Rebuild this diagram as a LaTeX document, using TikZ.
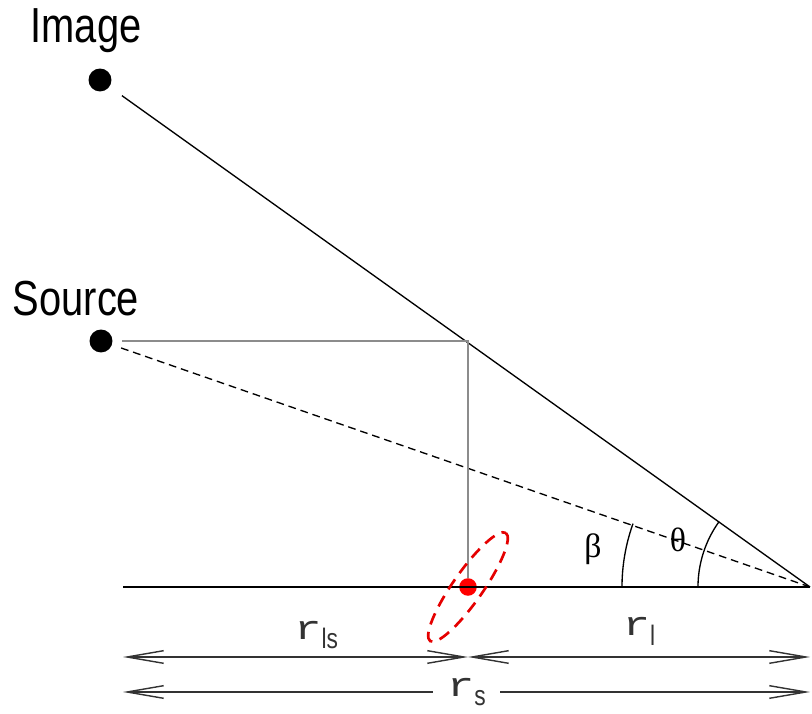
\documentclass[tikz,border=0pt]{standalone}
\usepackage{fontspec}
\setmainfont{Liberation Sans}
\newfontfamily\narrowfont[FakeStretch=0.81]{Liberation Sans}
\newfontfamily\rfont[FakeStretch=1.35]{Liberation Mono}
\newfontfamily\greekfont{Liberation Serif}
\usepackage{xcolor}
\usepackage{tikz}
\usetikzlibrary{arrows.meta, positioning}

\newcommand{\dist}[1]{{\rfont r}\raisebox{-7pt}{\fontsize{20}{20}\narrowfont #1}}

\begin{document}
\begin{tikzpicture}[
  x=0.025cm, y=-0.025cm,
  dot/.style={circle, fill=black, inner sep=0pt, minimum size=16.3pt, outer sep=7pt},
  lensdot/.style={circle, fill=red, inner sep=0pt, minimum size=12.5pt},
  ray/.style={draw, line width=0.95pt},
  guide/.style={draw, black!45, line width=0.95pt},
  dim/.style={draw, black!80, line width=1pt, {Straight Barb[length=26pt,width=9pt]}-{Straight Barb[length=26pt,width=9pt]}},
  biglabel/.style={font=\fontsize{35}{40}\narrowfont, anchor=base},
  anglabel/.style={font=\fontsize{24}{28}\greekfont},
  distlabel/.style={font=\fontsize{24}{28}\selectfont, inner sep=2pt}
]
  \useasboundingbox (0,0) rectangle (812,714);

  \node [dot] (image) at (100,80) {};
  \node [dot] (source) at (101,341) {};
  \node [biglabel] (imagetxt) at (86,43) {Image};
  \node [biglabel] (sourcetxt) at (76,316) {Source};

  \coordinate (obs) at (810,587);
  \coordinate (axis) at (123,587);
  \coordinate (defl) at (468,341);
  \node [lensdot] (lens) at (468,587) {};

  % rays and guides
  \draw [ray, shorten <=4pt] (image) -- (obs);
  \draw [ray, dashed, dash pattern=on 5.5pt off 3.5pt] (source) -- (obs);
  \draw [guide] (source) -- (defl) -- (lens);
  \draw [ray] (axis) -- (obs);

  % lens ellipse
  \draw [red!90!black, line width=1.9pt, dash pattern=on 8.5pt off 5.5pt, rotate around={55:(lens)}]
    (lens) ellipse [x radius=66, y radius=15];

  % angles
  \draw [ray] (obs) ++(180:188) arc [start angle=180, end angle=199.7, radius=188];
  \draw [ray] (obs) ++(180:112) arc [start angle=180, end angle=215.7, radius=112];
  \node [anglabel] (beta) at (593,549) {β};
  \node [anglabel] (theta) at (678,540) {θ};

  % distances
  \coordinate (dl) at (123,657);
  \coordinate (dm) at (468,657);
  \coordinate (dr) at (810,657);
  \coordinate (sl) at (123,692);
  \coordinate (sr) at (810,692);
  \draw [dim] (dl) -- node[distlabel, pos=0.56, above=3pt] {\dist{ls}} (dm);
  \draw [dim] (dm) -- node[distlabel, midway, above=6pt] {\dist{l}} (dr);
  \draw [dim] (sl) -- node[distlabel, midway, fill=white, inner xsep=10pt] {\dist{s}} (sr);
\end{tikzpicture}
\end{document}
